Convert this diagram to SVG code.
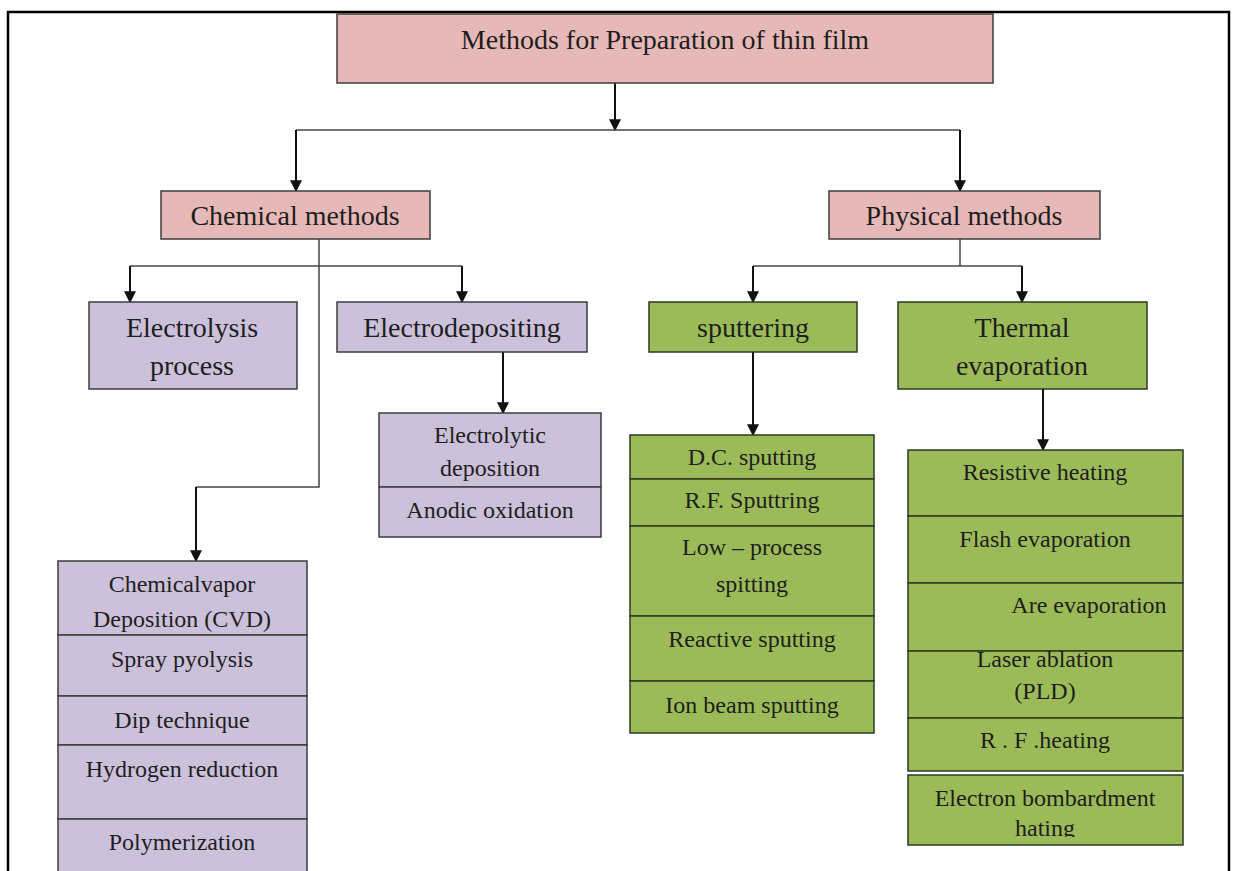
<svg xmlns="http://www.w3.org/2000/svg" width="1235" height="871" viewBox="0 0 1235 871">
<style>
text{font-family:"Liberation Serif","Times New Roman",serif;fill:#1e1e1e;text-anchor:middle}
.t28{font-size:28px}
.t24{font-size:24px}
.pink{fill:#e6b9b8;stroke:#3c3c3c;stroke-width:1.5}
.purp{fill:#ccc1da;stroke:#3c3c3c;stroke-width:1.5}
.grn{fill:#9bbb59;stroke:#2e3a22;stroke-width:1.5}
.arr{fill:none;stroke:#111;stroke-width:2;marker-end:url(#ah)}
.ln{fill:none;stroke:#444;stroke-width:1.5}
</style>
<defs>
<marker id="ah" viewBox="0 0 10 10" refX="9" refY="5" markerWidth="13" markerHeight="12" markerUnits="userSpaceOnUse" orient="auto">
<path d="M0,0 L10,5 L0,10 z" fill="#111"/>
</marker>
<clipPath id="clipEB"><rect x="908" y="775" width="275" height="62"/></clipPath>
</defs>
<rect x="0" y="0" width="1235" height="871" fill="#fff"/>
<rect x="8" y="12" width="1221" height="875" fill="none" stroke="#000" stroke-width="2.5"/>

<g id="connectors">
<path class="arr" d="M615,83 V130"/>
<path class="ln" d="M296,130 H960"/>
<path class="arr" d="M296,130 V191"/>
<path class="arr" d="M960,130 V191"/>
<path class="ln" d="M319,239 V487 H196" stroke-width="1.2"/>
<path class="arr" d="M196,487 V561"/>
<path class="ln" d="M130,266 H462"/>
<path class="arr" d="M130,266 V302"/>
<path class="arr" d="M462,266 V302"/>
<path class="ln" d="M960,239 V266"/>
<path class="ln" d="M753,266 H1022"/>
<path class="arr" d="M753,266 V302"/>
<path class="arr" d="M1022,266 V302"/>
<path class="arr" d="M503,352 V413"/>
<path class="arr" d="M753,352 V435"/>
<path class="arr" d="M1043,389 V450"/>
</g>

<g id="root">
<rect class="pink" x="337" y="14" width="656" height="69"/>
<text class="t28" x="665" y="49">Methods for Preparation of thin film</text>
</g>
<g id="chemical">
<rect class="pink" x="161" y="191" width="269" height="48"/>
<text class="t28" x="295" y="225">Chemical methods</text>
</g>
<g id="physical">
<rect class="pink" x="829" y="191" width="271" height="48"/>
<text class="t28" x="964" y="225">Physical methods</text>
</g>
<g id="electrolysis">
<rect class="purp" x="89" y="302" width="208" height="87"/>
<text class="t28" x="192" y="337">Electrolysis</text>
<text class="t28" x="192" y="375">process</text>
</g>
<g id="electrodepositing">
<rect class="purp" x="337" y="302" width="250" height="50"/>
<text class="t28" x="462" y="337">Electrodepositing</text>
</g>
<g id="electro-list">
<rect class="purp" x="379" y="413" width="222" height="74"/>
<text class="t24" x="490" y="443">Electrolytic</text>
<text class="t24" x="490" y="476">deposition</text>
<rect class="purp" x="379" y="487" width="222" height="50"/>
<text class="t24" x="490" y="518">Anodic oxidation</text>
</g>
<g id="cvd-list">
<rect class="purp" x="58" y="561" width="249" height="74"/>
<text class="t24" x="182" y="592">Chemicalvapor</text>
<text class="t24" x="182" y="627">Deposition (CVD)</text>
<rect class="purp" x="58" y="635" width="249" height="61"/>
<text class="t24" x="182" y="667">Spray pyolysis</text>
<rect class="purp" x="58" y="696" width="249" height="49"/>
<text class="t24" x="182" y="728">Dip technique</text>
<rect class="purp" x="58" y="745" width="249" height="74"/>
<text class="t24" x="182" y="777">Hydrogen reduction</text>
<rect class="purp" x="58" y="819" width="249" height="70"/>
<text class="t24" x="182" y="850">Polymerization</text>
</g>
<g id="sputtering">
<rect class="grn" x="649" y="302" width="208" height="50"/>
<text class="t28" x="753" y="337">sputtering</text>
</g>
<g id="thermal">
<rect class="grn" x="898" y="302" width="249" height="87"/>
<text class="t28" x="1022" y="337">Thermal</text>
<text class="t28" x="1022" y="375">evaporation</text>
</g>
<g id="sputter-list">
<rect class="grn" x="630" y="435" width="244" height="44"/>
<text class="t24" x="752" y="465">D.C. sputting</text>
<rect class="grn" x="630" y="479" width="244" height="47"/>
<text class="t24" x="752" y="508">R.F. Sputtring</text>
<rect class="grn" x="630" y="526" width="244" height="90"/>
<text class="t24" x="752" y="555">Low – process</text>
<text class="t24" x="752" y="592">spitting</text>
<rect class="grn" x="630" y="616" width="244" height="65"/>
<text class="t24" x="752" y="647">Reactive sputting</text>
<rect class="grn" x="630" y="681" width="244" height="52"/>
<text class="t24" x="752" y="713">Ion beam sputting</text>
</g>
<g id="thermal-list">
<rect class="grn" x="908" y="450" width="275" height="66"/>
<text class="t24" x="1045" y="480">Resistive heating</text>
<rect class="grn" x="908" y="516" width="275" height="67"/>
<text class="t24" x="1045" y="547">Flash evaporation</text>
<rect class="grn" x="908" y="583" width="275" height="68"/>
<text class="t24" x="1089" y="613">Are evaporation</text>
<rect class="grn" x="908" y="651" width="275" height="67"/>
<text class="t24" x="1045" y="667">Laser ablation</text>
<text class="t24" x="1045" y="699">(PLD)</text>
<rect class="grn" x="908" y="718" width="275" height="53"/>
<text class="t24" x="1045" y="748">R . F .heating</text>
</g>
<g id="electron-bombardment">
<rect class="grn" x="908" y="775" width="275" height="70"/>
<text class="t24" x="1045" y="806">Electron bombardment</text>
<text class="t24" x="1045" y="836" clip-path="url(#clipEB)">hating</text>
</g>
</svg>
